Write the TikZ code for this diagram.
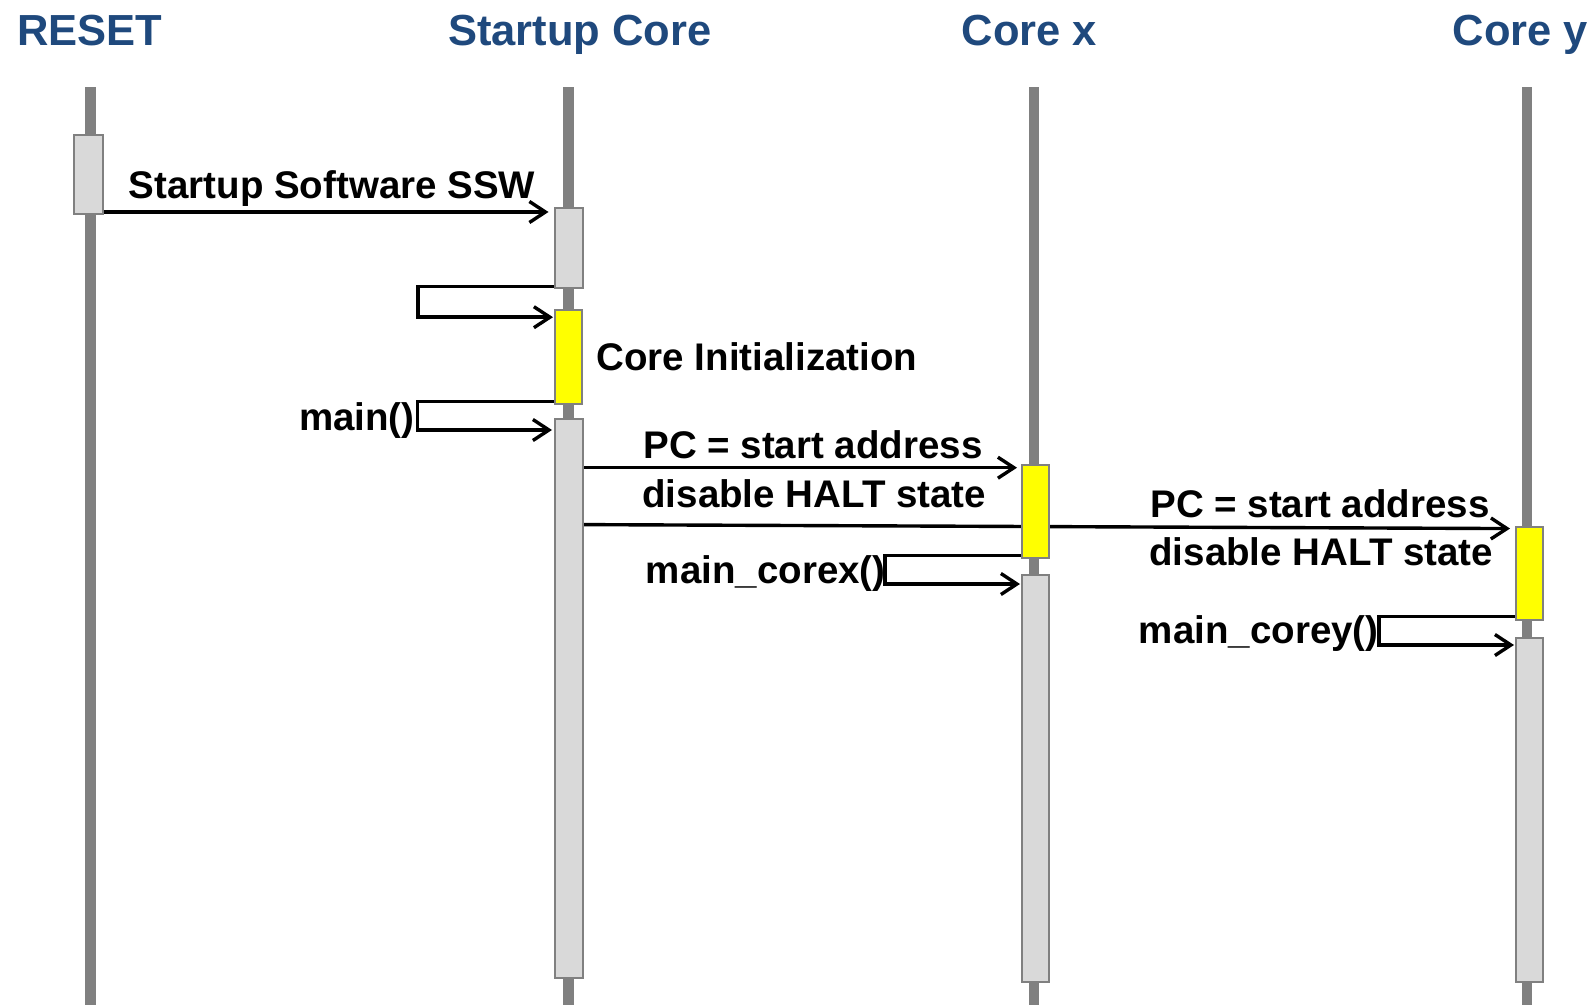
\documentclass[tikz,border=0pt]{standalone}
\usepackage{fontspec}
\setmainfont{Liberation Sans}
\usetikzlibrary{arrows.meta,calc,fit}
\pgfdeclarelayer{bg}
\pgfdeclarelayer{mid}
\pgfsetlayers{bg,mid,main}
\definecolor{titleblue}{HTML}{1F497D}
\definecolor{lifegray}{HTML}{808080}
\definecolor{boxgray}{HTML}{D9D9D9}
\definecolor{hiyellow}{HTML}{FFFF00}
\begin{document}
\begin{tikzpicture}[x=0.5pt,y=-0.5pt,
  lifeline/.style={draw=lifegray,line width=5.4pt},
  actbox/.style={draw=lifegray,line width=1pt,fill=boxgray,inner sep=0pt,outer sep=0pt},
  initbox/.style={actbox,fill=hiyellow},
  msg/.style={draw=black,line width=1.7pt,-{Straight Barb[length=8pt,width=10.5pt]}},
  title/.style={font=\bfseries\fontsize{21.75}{26}\selectfont,text=titleblue,anchor=base,inner sep=0pt},
  lbl/.style={font=\bfseries\fontsize{19.25}{23}\selectfont,inner sep=0pt}]
\useasboundingbox (0,0) rectangle (1594,1005);

% titles
\node[title] (tReset) at (90,45.7) {RESET};
\node[title] (tSC) at (580,45.7) {Startup Core};
\node[title] (tCX) at (1029.3,45.7) {Core x};
\node[title] (tCY) at (1520.3,45.7) {Core y};

% lifelines
\coordinate (lR) at (90.5,87.4);
\coordinate (lS) at (568.3,87.4);
\coordinate (lX) at (1034,87.4);
\coordinate (lY) at (1527,87.4);
\begin{pgfonlayer}{bg}
\draw[lifeline] (lR) -- (lR |- 0,1012);
\draw[lifeline] (lS) -- (lS |- 0,1012);
\draw[lifeline] (lX) -- (lX |- 0,1012);
\draw[lifeline] (lY) -- (lY |- 0,1012);
\end{pgfonlayer}

% activation boxes
\node[actbox,fit={(74.2,135.2)(102.7,214.5)}] (bR) {};
\node[actbox,fit={(554.5,208.4)(582.5,287.7)}] (bS1) {};
\node[initbox,fit={(555,310)(581.5,403.6)}] (yS) {};
\node[actbox,fit={(555,418.8)(582.5,978)}] (bS2) {};
\node[initbox,fit={(1022,464.6)(1048.5,558)}] (yX) {};
\node[actbox,fit={(1022,575.4)(1049,982)}] (bX) {};
\node[initbox,fit={(1516,526.6)(1543,620)}] (yY) {};
\node[actbox,fit={(1516,638.4)(1543,982)}] (bY) {};

% messages
\begin{pgfonlayer}{mid}
\draw[msg,shorten >=3pt] (bR.east |- 0,212) -- (bS1.west |- 0,212);
\draw[msg,shorten >=1pt] (bS1.west |- 0,286.7) -- ++(-136.7,0) |- (yS.west |- 0,317.2);
\draw[msg,shorten >=1.5pt] (yS.west |- 0,401.7) -- ++(-137.7,0) |- (bS2.west |- 0,430);
\draw[msg,shorten >=2.5pt] (bS2.east |- 0,467.7) -- (yX.west |- 0,467.7);
\draw[msg,shorten >=3pt] (bS2.east |- 0,524.6) -- (yY.west |- 0,528.6);
\draw[msg,shorten >=1pt] (yX.west |- 0,555.7) -- ++(-137,0) |- (bX.west |- 0,584);
\draw[msg,shorten >=1pt] (yY.west |- 0,616.7) -- ++(-137,0) |- (bY.west |- 0,645);
\end{pgfonlayer}

% labels
\node[lbl,anchor=base] (lSSW) at (332,198.5) {Startup Software SSW};
\node[lbl,anchor=base west] (lInit) at (596,371) {Core Initialization};
\node[lbl,anchor=base east] (lMain) at (415,430.5) {main()};
\node[lbl,anchor=base west] (lPC1) at (643,458) {PC = start address};
\node[lbl,anchor=base west] (lHalt1) at (642,507) {disable HALT state};
\node[lbl,anchor=base east] (lCX) at (886,583) {main\_corex()};
\node[lbl,anchor=base west] (lPC2) at (1150,517.5) {PC = start address};
\node[lbl,anchor=base west] (lHalt2) at (1149,565) {disable HALT state};
\node[lbl,anchor=base east] (lCY) at (1379,643.5) {main\_corey()};
\end{tikzpicture}
\end{document}
